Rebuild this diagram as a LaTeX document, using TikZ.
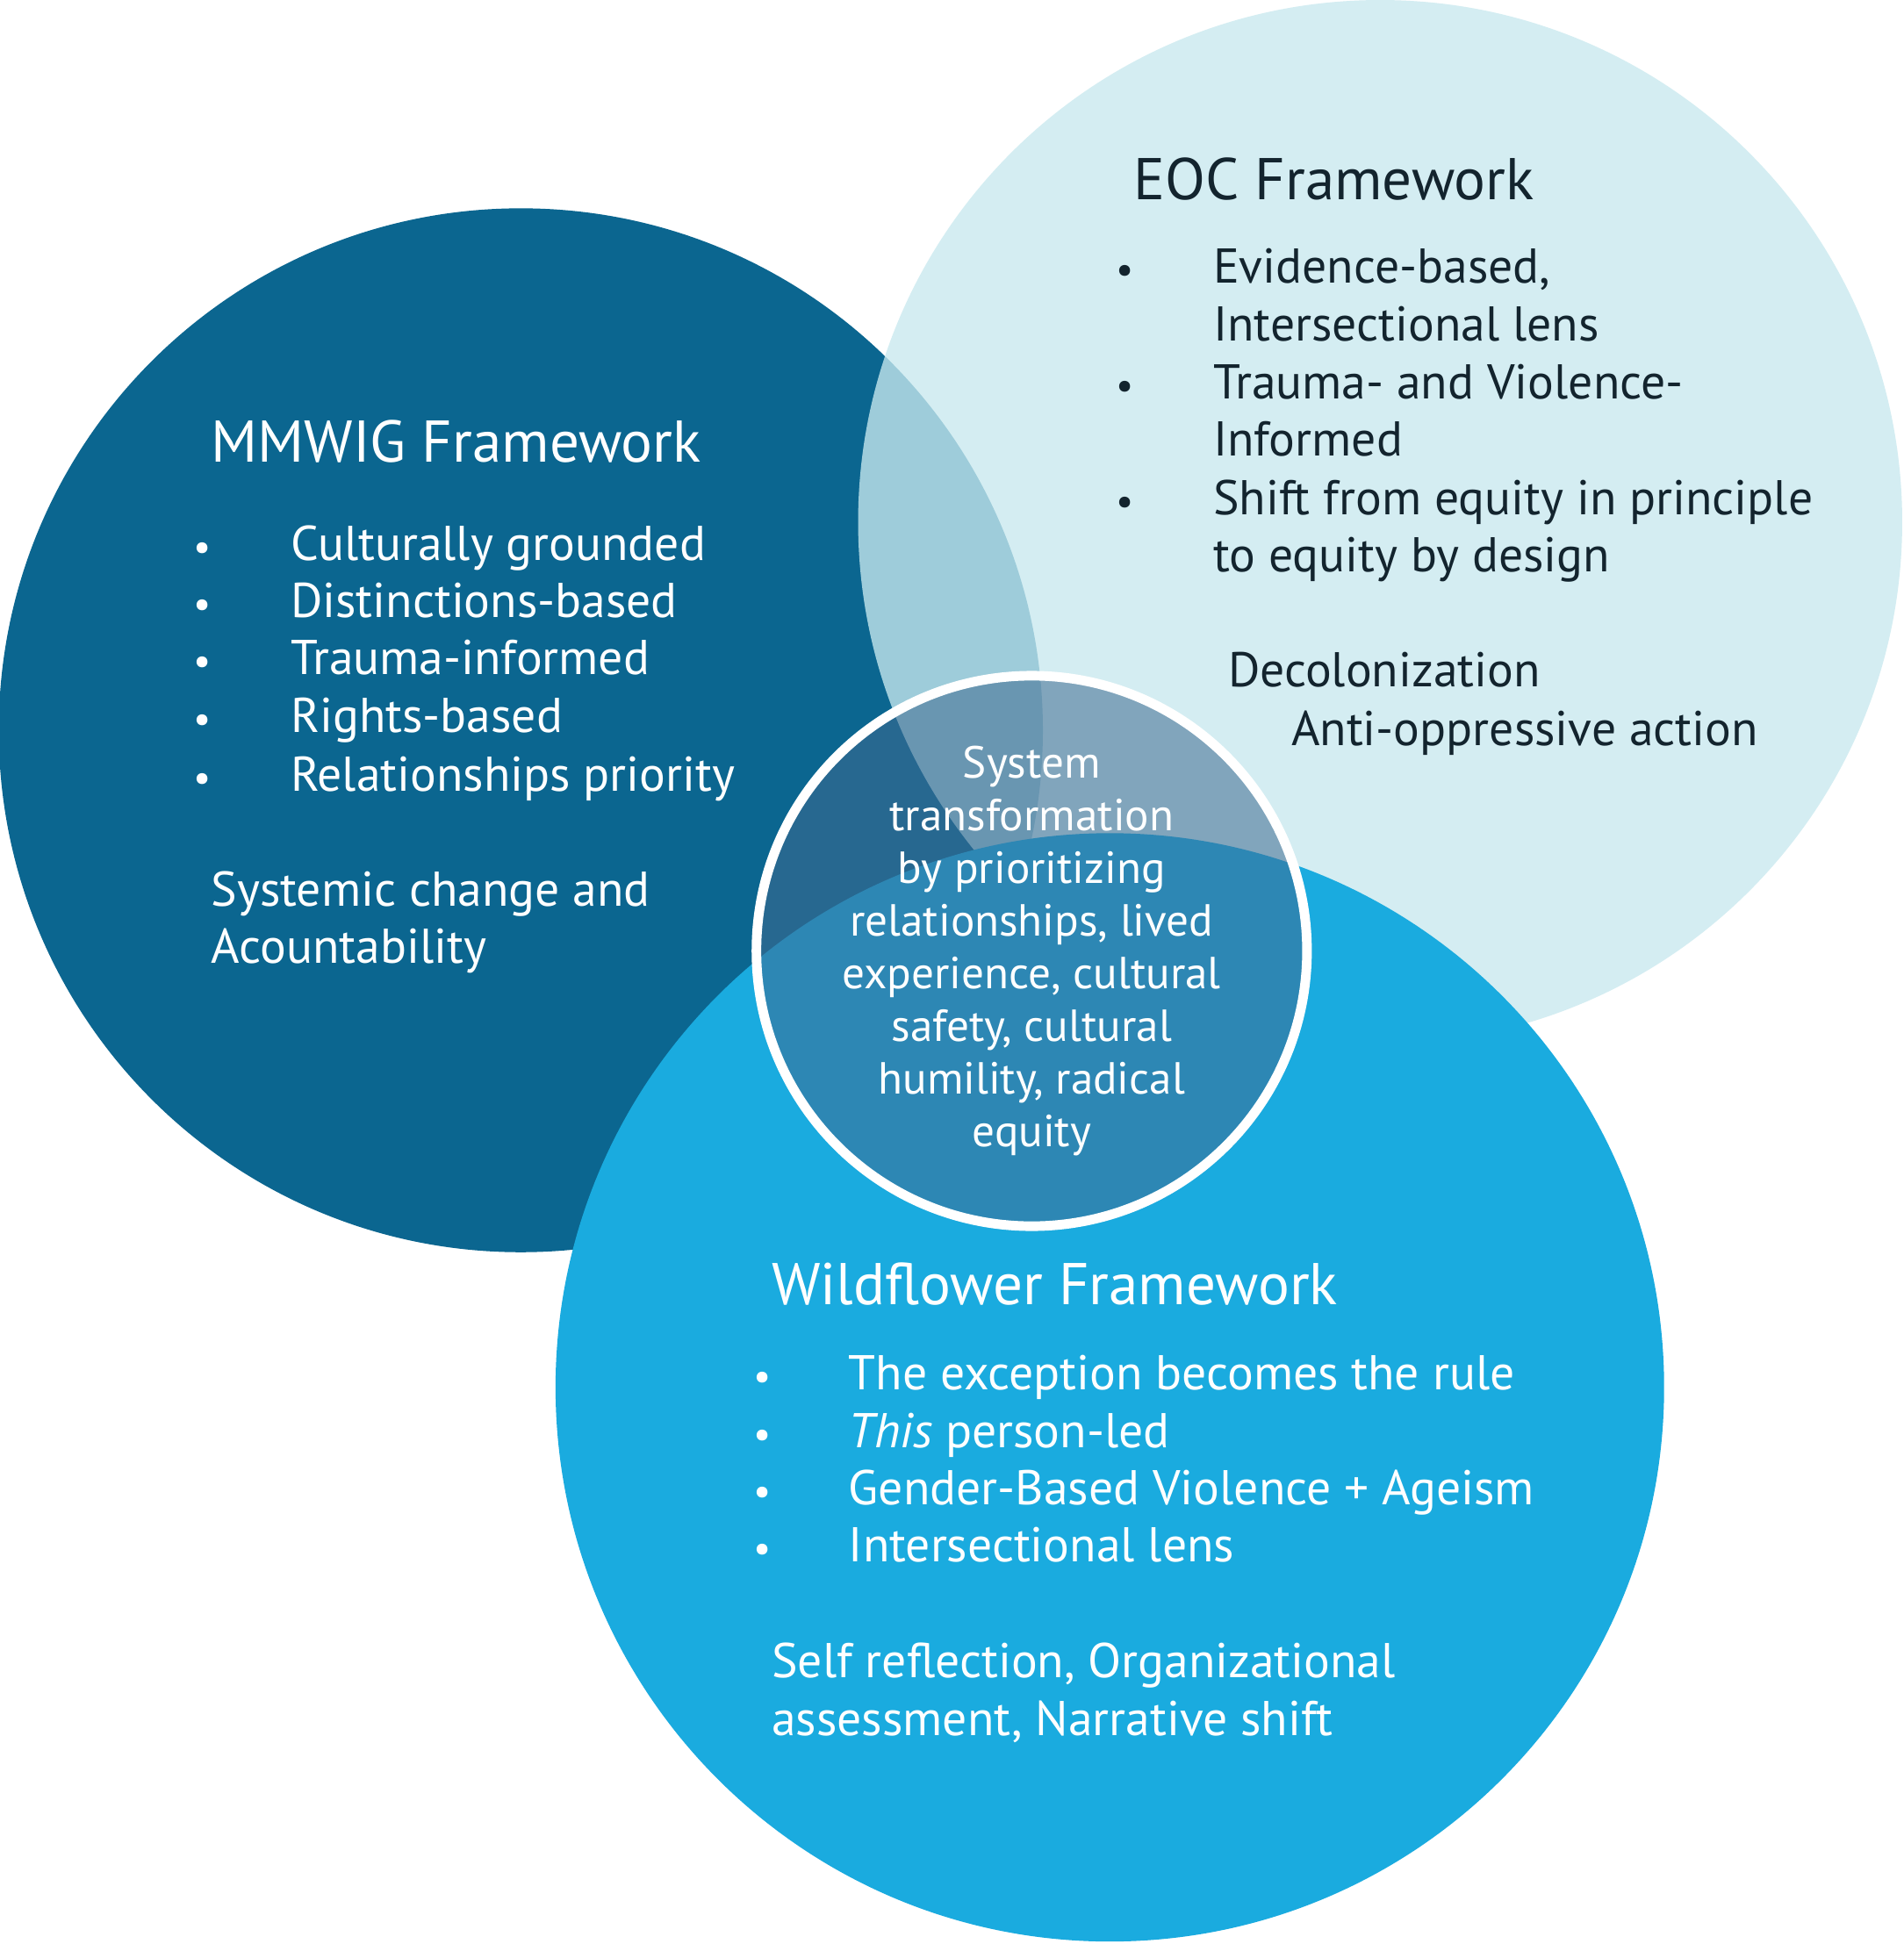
\documentclass[tikz,border=0pt]{standalone}
\usepackage{fontspec}
\setmainfont{PT Sans}
\definecolor{darkc}{HTML}{0B6690}
\definecolor{lightc}{HTML}{C8E9EF}
\definecolor{brightc}{HTML}{1AABDF}
\definecolor{centc}{HTML}{3E6A91}
\definecolor{txtd}{HTML}{13242E}
\begin{document}
\begin{tikzpicture}[x=0.01cm,y=-0.01cm,
  head/.style={anchor=base west,font=\fontsize{13.5}{16}\selectfont},
  item/.style={anchor=base west,font=\fontsize{11.2}{13}\selectfont},
  bul/.style={anchor=base,font=\fontsize{9}{13}\selectfont}]
\useasboundingbox (0,0) rectangle (1535,1568);
\fill[white] (0,0) rectangle (1535,1568);
\fill[darkc] (420,589) circle (421);
\fill[lightc,opacity=0.78] (1113,421) circle (421);
\begin{scope}[blend group=multiply]
\fill[brightc] (895,1119) circle (447);
\end{scope}
\fill[centc,opacity=0.55] (832,767) circle (222);
\draw[white,line width=2.2pt] (832,767) circle (222);
% MMWIG
\node[head,white] (h1) at (158,373) {MMWIG Framework};
\foreach \y/\t [count=\i] in {452/Culturally grounded,498/Distinctions-based,544/Trauma-informed,591/Rights-based,638/Relationships priority}{
  \node[bul,white] (b1\i) at (163,\y) {•};
  \node[item,white] (t1\i) at (222,\y) {\t};}
\node[item,white] (s1) at (158,731) {Systemic change and};
\node[item,white] (s2) at (158,777) {Acountability};
% EOC
\node[head,txtd] (h2) at (902,161) {EOC Framework};
\foreach \y/\t [count=\i] in {228/{Evidence-based,},275/Intersectional lens,322/Trauma- and Violence-,368/Informed,415/Shift from equity in principle,461/to equity by design}{
  \node[item,txtd] (t2\i) at (966,\y) {\t};}
\foreach \y [count=\i] in {228,322,415}{\node[bul,txtd] (b2\i) at (907,\y) {•};}
\node[item,txtd] (d1) at (978,554) {Decolonization};
\node[item,txtd] (d2) at (1029,601) {Anti-oppressive action};
% Wildflower
\node[head,white] (h3) at (610,1052) {Wildflower Framework};
\foreach \y/\t [count=\i] in {1121/The exception becomes the rule,1168/{\textit{This} person-led},1214/Gender-Based Violence + Ageism,1260/Intersectional lens}{
  \node[bul,white] (b3\i) at (615,\y) {•};
  \node[item,white] (t3\i) at (672,\y) {\t};}
\node[item,white] (w1) at (610,1353) {Self reflection, Organizational};
\node[item,white] (w2) at (610,1400) {assessment, Narrative shift};
% centre
\node[white,align=center,font=\fontsize{10.3}{12.1}\selectfont] (c) at (832,767)
{System\\transformation\\by prioritizing\\relationships, lived\\experience, cultural\\safety, cultural\\humility, radical\\equity};
\end{tikzpicture}
\end{document}
